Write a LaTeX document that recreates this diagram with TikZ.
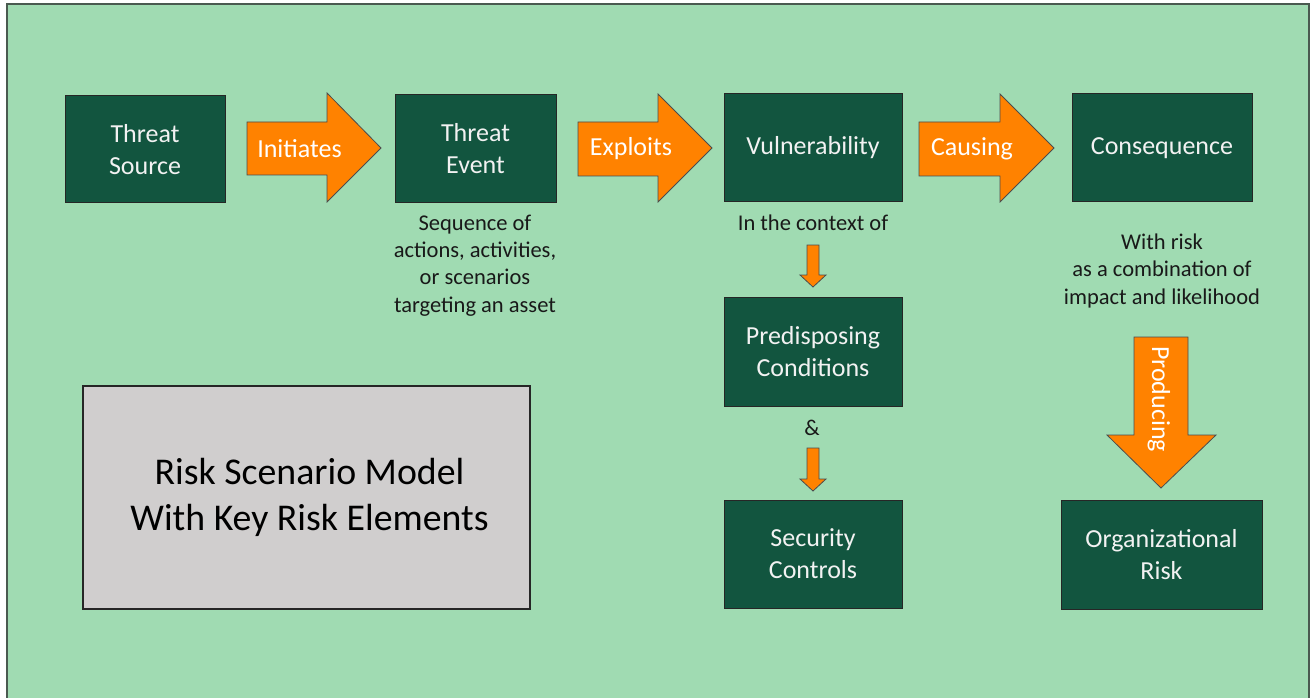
\documentclass[tikz,border=0pt]{standalone}
\usepackage{fontspec}
\setmainfont{Carlito}
\definecolor{bg}{HTML}{A0DBB2}
\definecolor{dkg}{HTML}{12553F}
\definecolor{org}{HTML}{FF8200}
\definecolor{gry}{HTML}{D0CECE}
\definecolor{txw}{HTML}{F2F2F2}
\definecolor{frm}{HTML}{4A5A50}
\tikzset{
  box/.style={draw=black!85, line width=1pt, fill=dkg, text=txw, align=center,
    inner sep=0pt, font=\fontsize{26}{32}\selectfont},
  note/.style={align=center, text=black!90, inner sep=0pt, font=\fontsize{22.5}{27.4}\selectfont},
  barrow/.style={fill=org, draw=black!70, line width=0.8pt, line join=miter},
  alabel/.style={text=white, inner sep=0pt, font=\fontsize{26}{32}\selectfont},
}
\begin{document}
\begin{tikzpicture}[x=1pt,y=-1pt]
\useasboundingbox (0,0) rectangle (1310,698);
\fill[white] (0,0) rectangle (1310,698);
\draw[fill=bg, draw=frm, line width=1.6pt] (7,4) rectangle (1309,720);

% boxes
\node[box, minimum width=160, minimum height=107] (ts) at (145,149.5) {Threat\\Source};
\node[box, minimum width=161, minimum height=108] (te) at (475.5,149) {Threat\\Event};
\node[box, minimum width=178, minimum height=108] (vu) at (813,148) {\strut Vulnerability};
\node[box, minimum width=180, minimum height=108] (co) at (1162,148) {\strut Consequence};
\node[box, minimum width=178, minimum height=109] (pc) at (813,351.5) {Predisposing\\Conditions};
\node[box, minimum width=178, minimum height=108] (sc) at (813,554) {Security\\Controls};
\node[box, minimum width=201, minimum height=109] (orisk) at (1161.5,554.5) {Organizational\\Risk};
\node[draw=black!85, line width=1.2pt, fill=gry, minimum width=447, minimum height=223,
  align=center, inner sep=0pt, font=\fontsize{37.8}{46}\selectfont] (title) at (306.5,497.5)
  {\hspace*{6pt}Risk Scenario Model\\\hspace*{6pt}With Key Risk Elements};

% notes
\node[note] (n1) at (475,265.5) {Sequence of\\actions, activities,\\or scenarios\\targeting an asset};
\node[note] (n2) at (813,223) {In the context of};
\node[note] (n3) at (1162,271) {With risk\\as a combination of\\impact and likelihood};
\node[note] (n4) at (812,428) {\&};

% horizontal block arrows
\draw[barrow] (247,122) -- (327,122) -- (327,93) -- (381,148) -- (327,202) -- (327,175) -- (247,175) -- cycle;
\node[alabel] (l1) at (299.5,149) {Initiates};
\draw[barrow] (578,122) -- (658,122) -- (658,94) -- (712,148) -- (658,202) -- (658,176) -- (578,176) -- cycle;
\node[alabel] (l2) at (631,149) {\strut Exploits};
\draw[barrow] (919,122) -- (1000,122) -- (1000,94) -- (1054,148) -- (1000,202) -- (1000,176) -- (919,176) -- cycle;
\node[alabel] (l3) at (972,149) {\strut Causing};

% small down arrows
\draw[barrow] (807,245) -- (819,245) -- (819,275) -- (826,275) -- (813,287) -- (800,275) -- (807,275) -- cycle;
\draw[barrow] (807,448) -- (819,448) -- (819,479) -- (826,479) -- (813,491) -- (800,479) -- (807,479) -- cycle;

% producing arrow
\draw[barrow] (1134,337) -- (1188,337) -- (1188,435) -- (1216,435) -- (1161,488) -- (1107,435) -- (1134,435) -- cycle;
\node[alabel, rotate=-90] (l4) at (1159,399) {Producing};
\end{tikzpicture}
\end{document}
